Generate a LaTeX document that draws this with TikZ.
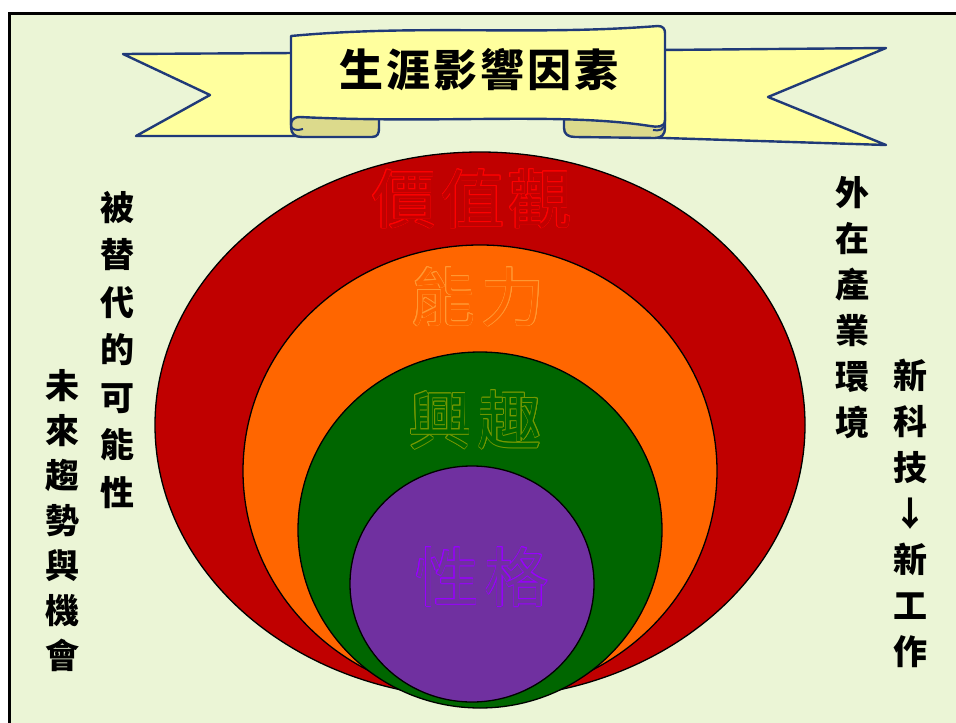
\documentclass[tikz,border=0pt]{standalone}
\usepackage{fontspec}
\newfontfamily\cjk{Noto Sans CJK TC}
\definecolor{bgc}{HTML}{EBF5D6}
\definecolor{ringred}{HTML}{C00000}
\definecolor{ringorange}{HTML}{FF6600}
\definecolor{ringgreen}{HTML}{006600}
\definecolor{ringpurple}{HTML}{7030A0}
\definecolor{olred}{HTML}{FF0000}
\definecolor{olorange}{HTML}{FF9933}
\definecolor{olgreen}{HTML}{779900}
\definecolor{olpurple}{HTML}{9900FF}
\definecolor{ribbonc}{HTML}{FFFF9E}
\definecolor{ribbonfold}{HTML}{DCDA8C}
\definecolor{navy}{HTML}{203A78}
\tikzset{
  ring/.style={draw=black, line width=1.3pt},
  ribbonpart/.style={draw=navy, line width=2.4pt, line join=round, fill=ribbonc},
  foldpart/.style={draw=navy, line width=2.4pt, line join=round, fill=ribbonfold},
  side/.style={font=\cjk\bfseries\fontsize{34}{46}\selectfont, align=center, inner sep=0pt, text=black},
  titlestyle/.style={font=\cjk\bfseries\fontsize{44}{44}\selectfont, inner sep=0pt, text=black},
  biglab/.style={font=\cjk\fontsize{64}{64}\selectfont, inner sep=0pt}
}
\newcommand\ringlabel[6]{%
  \foreach \a in {0,30,...,330}
    \node[biglab, text=#4, shift={(\a:0.7pt)}] at (#2,#3) {#6};
  \node[biglab, text=#5] (#1) at (#2,#3) {#6};}
\begin{document}
\begin{tikzpicture}[x=1pt,y=-1pt]
\useasboundingbox (0,0) rectangle (956,723);
\fill[white] (0,0) rectangle (956,723);
\fill[bgc] (10,14) rectangle (960,730);
\draw[line width=3.5pt] (9.5,730) -- (9.5,13.5) -- (960,13.5);

% rings
\draw[ring, fill=ringred] (480,425) ellipse [x radius=325pt, y radius=273pt];
\draw[ring, fill=ringorange] (480,471) ellipse [x radius=237pt, y radius=226pt];
\draw[ring, fill=ringgreen] (480,530) ellipse [x radius=182pt, y radius=178pt];
\draw[ring, fill=ringpurple] (472,584) ellipse [x radius=122pt, y radius=118pt];

\ringlabel{val}{472}{199}{olred}{ringred}{價\hspace{5pt}值\hspace{3pt}觀}
\ringlabel{abil}{478}{297}{olorange}{ringorange}{能\hspace{6pt}力}
\ringlabel{inter}{475}{420}{olgreen}{ringgreen}{興\hspace{6pt}趣}
\ringlabel{pers}{482}{577}{olpurple}{ringpurple}{性\hspace{6pt}格}

% ribbon tails
\draw[ribbonpart] (123,54) -- (295,53) -- (295,115) -- (375,115) -- (375,136) -- (136,136) -- (210,95) -- cycle;
\draw[ribbonpart] (660,50) -- (886,48) -- (768,97) -- (886,145) -- (570,135) -- (570,115) -- (660,115) -- cycle;
% folds
\draw[foldpart] (291,110) -- (291,127) .. controls (291,134) and (295,137) .. (302,137) -- (372,137) .. controls (378,137) and (379,133) .. (379,128) -- (379,110) -- cycle;
\draw[foldpart] (564,112) -- (564,128) .. controls (564,134) and (568,137) .. (575,137) -- (655,138) .. controls (662,138) and (665,134) .. (665,128) -- (665,112) -- cycle;
% main banner
\draw[ribbonpart] (291,36) .. controls (420,24) and (530,36) .. (658,26) .. controls (663,26) and (665,29) .. (665,33) -- (665,120) .. controls (665,128) and (656,127) .. (650,126) .. controls (560,112) and (440,124) .. (300,117) .. controls (292,117) and (291,122) .. (291,125) -- cycle;
\draw[navy, line width=2pt] (291,125) .. controls (291,130) and (297,131) .. (303,129);
\draw[navy, line width=2pt] (665,120) .. controls (665,131) and (659,131) .. (653,130);

\node[titlestyle] (title) at (479,70) {生\hspace{3pt}涯\hspace{3pt}影\hspace{3pt}響\hspace{3pt}因\hspace{3pt}素};

% side texts
\node[side, font=\cjk\bfseries\fontsize{34}{47.5}\selectfont] (repl) at (117,350) {被\\替\\代\\的\\可\\能\\性};
\node[side, font=\cjk\bfseries\fontsize{34}{45}\selectfont] (trend) at (62,521) {未\\來\\趨\\勢\\與\\機\\會};
\node[side] (indus) at (852,308) {外\\在\\產\\業\\環\\境};
\node[side] (tech) at (910,513) {新\\科\\技\\↓\\新\\工\\作};
\end{tikzpicture}
\end{document}
